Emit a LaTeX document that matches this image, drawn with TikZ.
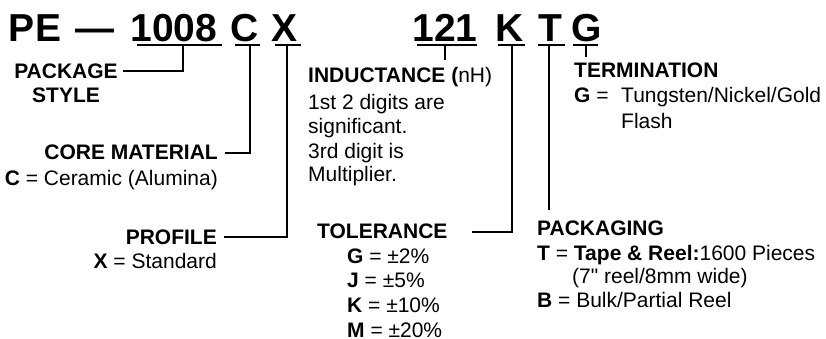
\documentclass[tikz,border=0pt]{standalone}
\usepackage{fontspec}
\setmainfont{Liberation Sans}
\newfontfamily\rawsans{Liberation Sans}[Ligatures=TeXOff]
\begin{document}
\begin{tikzpicture}[x=1pt,y=-1pt,
  big/.style={inner sep=0pt,anchor=base,font=\fontsize{39}{41}\selectfont\bfseries},
  txt/.style={inner sep=0pt,font=\fontsize{21}{24}\selectfont},
  hd/.style={txt,font=\fontsize{21}{24}\selectfont\bfseries},
  conn/.style={line width=1.8pt,line join=miter,line cap=butt}]
\useasboundingbox (0,0) rectangle (826,339);
% top code
\node[big] (pe) at (35,42) {PE};
\node[big] (dash) at (95,42) {—};
\node[big] (n1008) at (174,42) {1008};
\node[big] (cc) at (245,42) {C};
\node[big] (xx) at (285,42) {X};
\node[big] (n121) at (445,42) {121};
\node[big] (kk) at (509.5,42) {K};
\node[big] (tt) at (550.5,42) {T};
\node[big] (gg) at (586.5,42) {G};
% underlines
\coordinate (u1a) at (137,45); \coordinate (u1b) at (222,45);
\coordinate (u2a) at (235,45); \coordinate (u2b) at (260,45);
\coordinate (u3a) at (275,45); \coordinate (u3b) at (301,45);
\coordinate (u4a) at (417,45); \coordinate (u4b) at (477,45);
\coordinate (u5a) at (498,45); \coordinate (u5b) at (525,45);
\coordinate (u6a) at (538,45); \coordinate (u6b) at (565,45);
\coordinate (u7a) at (573,45); \coordinate (u7b) at (598,45);
\foreach \s in {1,...,7} {\draw[conn] (u\s a) -- (u\s b);}
% labels
\node[hd,anchor=base] (pkg1) at (66,79) {PACKAGE};
\node[hd,anchor=base] (pkg2) at (66,103) {STYLE};
\node[hd,anchor=base east] (core) at (218,160) {CORE MATERIAL};
\node[txt,anchor=base east] (core1) at (218,185) {\textbf{C} = Ceramic (Alumina)};
\node[hd,anchor=base east] (prof) at (217,244) {PROFILE};
\node[txt,anchor=base east] (prof1) at (217,268) {\textbf{X} = Standard};
\node[txt,anchor=base west] (ind) at (308,83) {\textbf{INDUCTANCE (}nH)};
\node[txt,anchor=base west] (ind1) at (308,110) {1st 2 digits are};
\node[txt,anchor=base west] (ind2) at (308,134) {significant.};
\node[txt,anchor=base west] (ind3) at (308,158) {3rd digit is};
\node[txt,anchor=base west] (ind4) at (308,182) {Multiplier.};
\node[hd,anchor=base west] (tol) at (317,238) {TOLERANCE};
\node[txt,anchor=base west] (tol1) at (347,263) {\textbf{G} = ±2\%};
\node[txt,anchor=base west] (tol2) at (347,287) {\textbf{J} = ±5\%};
\node[txt,anchor=base west] (tol3) at (347,312) {\textbf{K} = ±10\%};
\node[txt,anchor=base west] (tol4) at (347,337) {\textbf{M} = ±20\%};
\node[hd,anchor=base west] (term) at (574,78) {TERMINATION};
\node[txt,anchor=base west] (term1) at (574,103) {\textbf{G} =};
\node[txt,anchor=base west] (term2) at (621,103) {Tungsten/Nickel/Gold};
\node[txt,anchor=base west] (term3) at (621,129) {Flash};
\node[hd,anchor=base west] (pack) at (537,235) {PACKAGING};
\node[txt,anchor=base west] (pack1) at (537,260) {\textbf{T} = \textbf{Tape \& Reel:}1600 Pieces};
\node[txt,anchor=base west] (pack2) at (572,283) {(7{\rawsans"} reel/8mm wide)};
\node[txt,anchor=base west] (pack3) at (537,307) {\textbf{B} = Bulk/Partial Reel};
% connectors
\coordinate (c1) at (183,44);  \coordinate (e1) at (123,71);
\coordinate (c2) at (250,44);  \coordinate (e2) at (225,153);
\coordinate (c3) at (287,44);  \coordinate (e3) at (224,237);
\coordinate (c4) at (445,44);  \coordinate (e4) at (445,60);
\coordinate (c5) at (512,44);  \coordinate (e5) at (472,232);
\coordinate (c6) at (549,44);  \coordinate (e6) at (549,210);
\coordinate (c7) at (586,44);  \coordinate (e7) at (586,57);
\draw[conn] (c1) |- (e1);
\draw[conn] (c2) |- (e2);
\draw[conn] (c3) |- (e3);
\draw[conn] (c4) -- (e4);
\draw[conn] (c5) |- (e5);
\draw[conn] (c6) -- (e6);
\draw[conn] (c7) -- (e7);
\end{tikzpicture}
\end{document}
